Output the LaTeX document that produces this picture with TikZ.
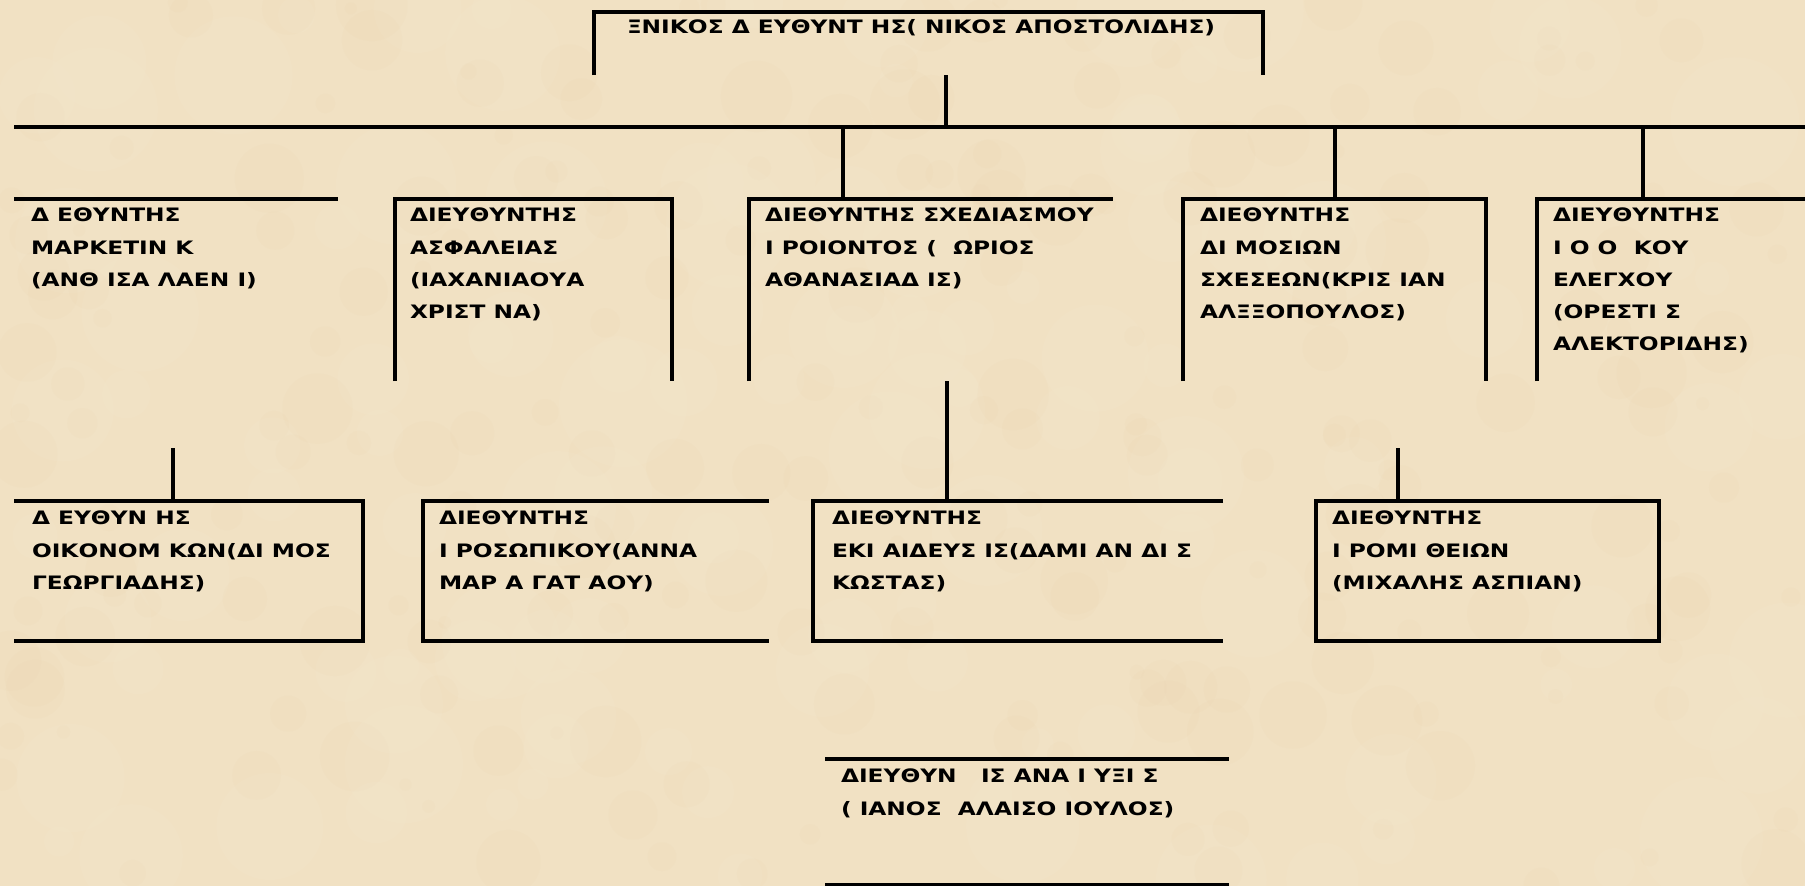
\documentclass[tikz,border=0pt]{standalone}
\usepackage{fontspec}
\setmainfont[FakeStretch=1.26]{DejaVu Sans}
\definecolor{paper}{RGB}{241,225,195}
\definecolor{blotdark}{RGB}{228,204,162}
\definecolor{blotlight}{RGB}{247,235,212}
\begin{document}
\begin{tikzpicture}[x=1pt,y=-1pt,
  ln/.style={line width=3.5pt},
  frame/.style={rectangle,draw=none,inner sep=0pt,outer sep=0pt,anchor=north west},
  lbl/.style={anchor=north west,inner sep=0pt,outer sep=0pt,align=left,
    font=\fontsize{18.5}{32.3}\selectfont\bfseries}]
% background
\fill[paper] (0,0) rectangle (1805,886);
\useasboundingbox (0,0) rectangle (1805,886);
\pgfmathsetseed{11}
\foreach \i in {1,...,220}{
  \pgfmathsetmacro\px{rnd*1805}
  \pgfmathsetmacro\py{rnd*886}
  \pgfmathsetmacro\rr{6+rnd*30}
  \fill[blotdark,opacity=0.07] (\px,\py) circle[radius=\rr];
}
\foreach \i in {1,...,120}{
  \pgfmathsetmacro\px{rnd*1805}
  \pgfmathsetmacro\py{rnd*886}
  \pgfmathsetmacro\rr{15+rnd*50}
  \fill[blotlight,opacity=0.12] (\px,\py) circle[radius=\rr];
}

% frames
\node[frame,minimum width=669,minimum height=63] (ceo) at (594,12) {};
\node[frame,minimum width=324,minimum height=182] (b1) at (14,199) {};
\node[frame,minimum width=277,minimum height=182] (b2) at (395,199) {};
\node[frame,minimum width=364,minimum height=182] (b3) at (749,199) {};
\node[frame,minimum width=303,minimum height=182] (b4) at (1183,199) {};
\node[frame,minimum width=268,minimum height=182] (b5) at (1537,199) {};
\node[frame,minimum width=349,minimum height=140] (b6) at (14,501) {};
\node[frame,minimum width=346,minimum height=140] (b7) at (423,501) {};
\node[frame,minimum width=410,minimum height=140] (b8) at (813,501) {};
\node[frame,minimum width=343,minimum height=140] (b9) at (1316,501) {};
\node[frame,minimum width=404,minimum height=126] (b10) at (825,759) {};

% outlines
\draw[ln] (ceo.south west) |- (ceo.north east) -- (ceo.south east);
\draw[ln] (b1.north west) -- (b1.north east);
\draw[ln] (b2.south west) |- (b2.north east) -- (b2.south east);
\draw[ln] (b3.south west) |- (b3.north east);
\draw[ln] (b4.south west) |- (b4.north east) -- (b4.south east);
\draw[ln] (b5.south west) |- (b5.north east);
\draw[ln] (b6.north west) -| (b6.south east) -- (b6.south west);
\draw[ln] (b7.north east) -| (b7.south west) -- (b7.south east);
\draw[ln] (b8.north east) -| (b8.south west) -- (b8.south east);
\draw[ln] (b9.north west) rectangle (b9.south east);
\draw[ln] (b10.north west) -- (b10.north east);
\draw[ln] (b10.south west) -- (b10.south east);

% bus and connectors
\coordinate (busL) at (14,127);
\coordinate (busR) at (1805,127);
\draw[ln] (busL) -- (busR);
\coordinate (c0) at (946,75);
\draw[ln] (c0) -- (c0 |- busL);
\coordinate (d3) at (843,127);
\coordinate (d4) at (1335,127);
\coordinate (d5) at (1643,127);
\draw[ln] (d3) -- (d3 |- b3.north);
\draw[ln] (d4) -- (d4 |- b4.north);
\draw[ln] (d5) -- (d5 |- b5.north);
\coordinate (u6) at (173,448);
\coordinate (u8) at (947,381);
\coordinate (u9) at (1398,448);
\draw[ln] (u6) -- (u6 |- b6.north);
\draw[ln] (u8) -- (u8 |- b8.north);
\draw[ln] (u9) -- (u9 |- b9.north);

% labels
\node[lbl] (ceot) at (627,19) {ΞΝΙΚΟΣ Δ ΕΥΘΥΝΤ ΗΣ( ΝΙΚΟΣ ΑΠΟΣΤΟΛΙΔΗΣ)};
\node[lbl] (b1t) at (31,208) {Δ ΕΘΥΝΤΗΣ\\ ΜΑΡΚΕΤΙΝ Κ\\(ΑΝΘ ΙΣΑ ΛΑΕΝ Ι)};
\node[lbl] (b2t) at (410,208) {ΔΙΕΥΘΥΝΤΗΣ\\ΑΣΦΑΛΕΙΑΣ\\(ΙΑΧΑΝΙΑΟΥΑ\\ΧΡΙΣΤ ΝΑ)};
\node[lbl] (b3t) at (765,208) {ΔΙΕΘΥΝΤΗΣ ΣΧΕΔΙΑΣΜΟΥ\\Ι ΡΟΙΟΝΤΟΣ (~ ΩΡΙΟΣ\\ΑΘΑΝΑΣΙΑΔ ΙΣ)};
\node[lbl] (b4t) at (1200,208) {ΔΙΕΘΥΝΤΗΣ\\ΔΙ ΜΟΣΙΩΝ\\ΣΧΕΣΕΩΝ(ΚΡΙΣ ΙΑΝ\\ΑΛΞΞΟΠΟΥΛΟΣ)};
\node[lbl] (b5t) at (1553,208) {ΔΙΕΥΘΥΝΤΗΣ\\Ι Ο Ο ~ΚΟΥ\\ΕΛΕΓΧΟΥ\\(ΟΡΕΣΤΙ Σ\\ΑΛΕΚΤΟΡΙΔΗΣ)};
\node[lbl] (b6t) at (32,511) {Δ ΕΥΘΥΝ ΗΣ\\ΟΙΚΟΝΟΜ ΚΩΝ(ΔΙ ΜΟΣ\\ΓΕΩΡΓΙΑΔΗΣ)};
\node[lbl] (b7t) at (439,511) {ΔΙΕΘΥΝΤΗΣ\\Ι ΡΟΣΩΠΙΚΟΥ(ΑΝΝΑ\\ΜΑΡ Α ΓΑΤ ΑΟΥ)};
\node[lbl] (b8t) at (832,511) {ΔΙΕΘΥΝΤΗΣ\\ΕΚΙ ΑΙΔΕΥΣ ΙΣ(ΔΑΜΙ ΑΝ ΔΙ Σ\\ΚΩΣΤΑΣ)};
\node[lbl] (b9t) at (1332,511) {ΔΙΕΘΥΝΤΗΣ\\Ι ΡΟΜΙ ΘΕΙΩΝ\\(ΜΙΧΑΛΗΣ ΑΣΠΙΑΝ)};
\node[lbl] (b10t) at (841,769) {ΔΙΕΥΘΥΝ ~ ΙΣ ΑΝΑ Ι ΥΞΙ Σ\\( ΙΑΝΟΣ ~ΑΛΑΙΣΟ ΙΟΥΛΟΣ)};
\end{tikzpicture}
\end{document}
